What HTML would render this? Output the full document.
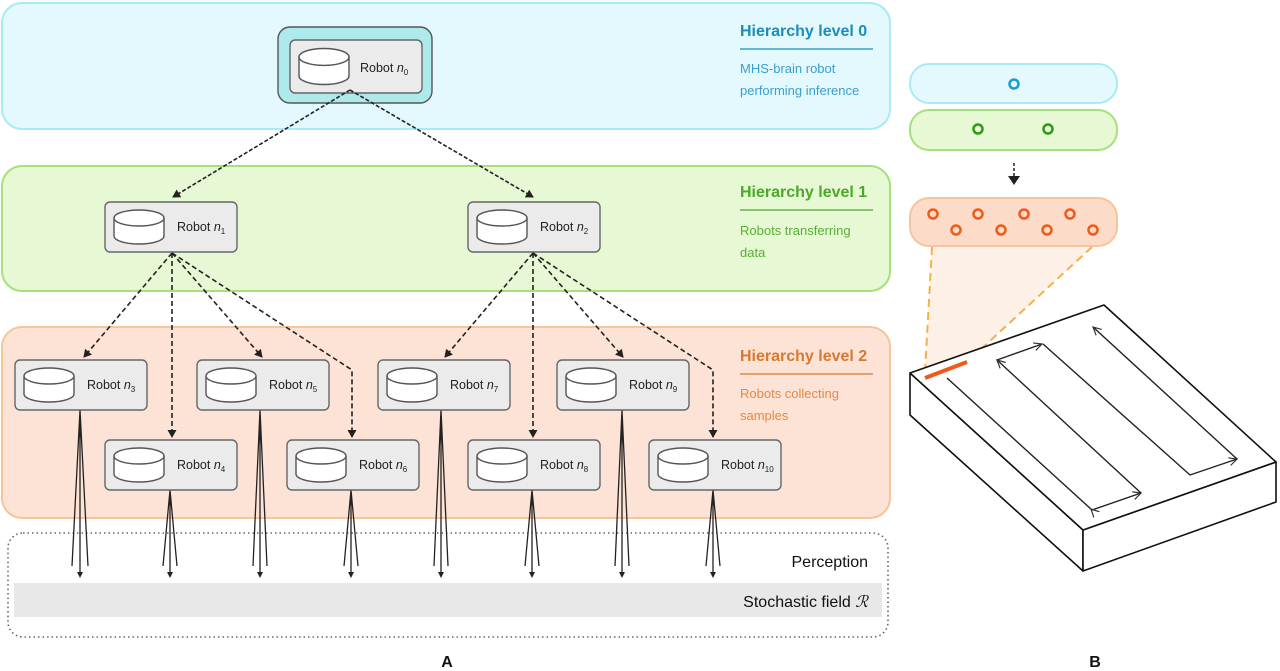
<!DOCTYPE html>
<html><head><meta charset="utf-8"><style>
html,body{margin:0;padding:0;background:#fff;}
svg{display:block;font-family:"Liberation Sans",sans-serif;}
</style></head><body>
<svg width="1280" height="671" viewBox="0 0 1280 671" xmlns="http://www.w3.org/2000/svg">
<defs>
<marker id="ah" markerWidth="9" markerHeight="9" refX="7" refY="4.5" orient="auto" markerUnits="userSpaceOnUse"><path d="M0,0 L8,4.5 L0,9 z" fill="#222"/></marker>
<marker id="oa" markerWidth="10" markerHeight="10" refX="8" refY="5" orient="auto" markerUnits="userSpaceOnUse"><path d="M0,1 L8,5 L0,9" fill="none" stroke="#333" stroke-width="1.2"/></marker>
<g id="robot">
<rect x="0" y="0" width="132" height="50" rx="5" fill="#ebebeb" stroke="#666" stroke-width="1.4"/>
<path d="M9,16 v18 a25,8 0 0 0 50,0 v-18" fill="#fff" stroke="#555" stroke-width="1.4"/>
<ellipse cx="34" cy="16" rx="25" ry="8" fill="#fff" stroke="#555" stroke-width="1.4"/>
</g>
</defs>
<rect x="2" y="3" width="888" height="126" rx="20" fill="#e3f9fd" stroke="#a6ebf7" stroke-width="2"/>
<rect x="2" y="166" width="888" height="125" rx="20" fill="#e6f8d4" stroke="#a6e07a" stroke-width="2"/>
<rect x="2" y="327" width="888" height="191" rx="20" fill="#fde3d5" stroke="#f8c49a" stroke-width="2"/>
<g>
<text x="740" y="36" fill="#1b8cc0" font-size="16" font-weight="bold">Hierarchy level 0</text>
<line x1="740" y1="49" x2="873" y2="49" stroke="#1b8cc0" stroke-width="1.3"/>
<text x="740" y="73" fill="#3a9fd0" font-size="13">MHS-brain robot</text>
<text x="740" y="95" fill="#3a9fd0" font-size="13">performing inference</text>
<text x="740" y="197" fill="#4ca82a" font-size="16" font-weight="bold">Hierarchy level 1</text>
<line x1="740" y1="210" x2="873" y2="210" stroke="#4ca82a" stroke-width="1.3"/>
<text x="740" y="235" fill="#58b030" font-size="13">Robots transferring</text>
<text x="740" y="257" fill="#58b030" font-size="13">data</text>
<text x="740" y="361" fill="#d67a30" font-size="16" font-weight="bold">Hierarchy level 2</text>
<line x1="740" y1="374" x2="873" y2="374" stroke="#d67a30" stroke-width="1.3"/>
<text x="740" y="398" fill="#e08a48" font-size="13">Robots collecting</text>
<text x="740" y="420" fill="#e08a48" font-size="13">samples</text>
</g>
<rect x="8" y="533" width="880" height="104" rx="15" fill="none" stroke="#666" stroke-width="1.6" stroke-dasharray="1.5,3"/>
<rect x="14" y="583" width="868" height="34" fill="#e8e8e8"/>
<text x="868" y="567" text-anchor="end" font-size="16" fill="#111">Perception</text>
<text x="868" y="607" text-anchor="end" font-size="16" fill="#111">Stochastic field <tspan font-family="Liberation Serif" font-style="italic">ℛ</tspan></text>
<rect x="278" y="27" width="154" height="76" rx="12" fill="#aee9ec" stroke="#555" stroke-width="1.4"/>
<g transform="translate(290,40) scale(1,1.06)"><use href="#robot"/></g>
<text x="360" y="72" font-size="12.5" fill="#222">Robot <tspan font-style="italic">n</tspan><tspan font-size="8" dy="3">0</tspan></text>
<g stroke="#222" stroke-width="1.6" stroke-dasharray="4,2" fill="none">
<line x1="350" y1="90" x2="173" y2="197" marker-end="url(#ah)"/>
<line x1="350" y1="90" x2="533" y2="197" marker-end="url(#ah)"/>
</g>
<use href="#robot" x="105" y="202"/><text x="177" y="231" font-size="12.5" fill="#222">Robot <tspan font-style="italic">n</tspan><tspan font-size="8" dy="3">1</tspan></text>
<use href="#robot" x="468" y="202"/><text x="540" y="231" font-size="12.5" fill="#222">Robot <tspan font-style="italic">n</tspan><tspan font-size="8" dy="3">2</tspan></text>
<g stroke="#222" stroke-width="1.6" stroke-dasharray="5,3" fill="none">
<line x1="172" y1="253" x2="84" y2="357" marker-end="url(#ah)"/>
<line x1="172" y1="253" x2="172" y2="437" marker-end="url(#ah)"/>
<line x1="172" y1="253" x2="262" y2="357" marker-end="url(#ah)"/>
<polyline points="172,253 352,370 352,437" marker-end="url(#ah)"/>
<line x1="533" y1="253" x2="445" y2="357" marker-end="url(#ah)"/>
<line x1="533" y1="253" x2="533" y2="437" marker-end="url(#ah)"/>
<line x1="533" y1="253" x2="623" y2="357" marker-end="url(#ah)"/>
<polyline points="533,253 713,370 713,437" marker-end="url(#ah)"/>
</g>
<g stroke="#222" stroke-width="1.3" fill="none">
<path d="M80,410 L72,566 M80,410 L88,566 M80,410 L80,574"/>
<path d="M170,490 L163,566 M170,490 L177,566 M170,490 L170,574"/>
<path d="M260,410 L253,566 M260,410 L267,566 M260,410 L260,574"/>
<path d="M351,490 L344,566 M351,490 L358,566 M351,490 L351,574"/>
<path d="M441,410 L434,566 M441,410 L448,566 M441,410 L441,574"/>
<path d="M532,490 L525,566 M532,490 L539,566 M532,490 L532,574"/>
<path d="M622,410 L615,566 M622,410 L629,566 M622,410 L622,574"/>
<path d="M713,490 L706,566 M713,490 L720,566 M713,490 L713,574"/>
</g>
<g fill="#222">
<path d="M77,572 h6 l-3,6 z"/><path d="M167,572 h6 l-3,6 z"/><path d="M257,572 h6 l-3,6 z"/><path d="M348,572 h6 l-3,6 z"/>
<path d="M438,572 h6 l-3,6 z"/><path d="M529,572 h6 l-3,6 z"/><path d="M619,572 h6 l-3,6 z"/><path d="M710,572 h6 l-3,6 z"/>
</g>
<g font-size="12.5" fill="#222">
<use href="#robot" x="15" y="360"/><text x="87" y="389">Robot <tspan font-style="italic">n</tspan><tspan font-size="8" dy="3">3</tspan></text>
<use href="#robot" x="197" y="360"/><text x="269" y="389">Robot <tspan font-style="italic">n</tspan><tspan font-size="8" dy="3">5</tspan></text>
<use href="#robot" x="378" y="360"/><text x="450" y="389">Robot <tspan font-style="italic">n</tspan><tspan font-size="8" dy="3">7</tspan></text>
<use href="#robot" x="557" y="360"/><text x="629" y="389">Robot <tspan font-style="italic">n</tspan><tspan font-size="8" dy="3">9</tspan></text>
<use href="#robot" x="105" y="440"/><text x="177" y="469">Robot <tspan font-style="italic">n</tspan><tspan font-size="8" dy="3">4</tspan></text>
<use href="#robot" x="287" y="440"/><text x="359" y="469">Robot <tspan font-style="italic">n</tspan><tspan font-size="8" dy="3">6</tspan></text>
<use href="#robot" x="468" y="440"/><text x="540" y="469">Robot <tspan font-style="italic">n</tspan><tspan font-size="8" dy="3">8</tspan></text>
<use href="#robot" x="649" y="440"/><text x="721" y="469">Robot <tspan font-style="italic">n</tspan><tspan font-size="8" dy="3">10</tspan></text>
</g>
<text x="447" y="667" font-size="16" font-weight="bold" text-anchor="middle" fill="#111">A</text>
<text x="1095" y="667" font-size="16" font-weight="bold" text-anchor="middle" fill="#111">B</text>
<rect x="910" y="64" width="207" height="39" rx="19" fill="#e3f9fd" stroke="#a6ebf7" stroke-width="2"/>
<circle cx="1014" cy="84" r="4.5" fill="none" stroke="#1b9ccc" stroke-width="2.5"/>
<rect x="910" y="110" width="207" height="40" rx="19" fill="#e6f8d4" stroke="#a6e07a" stroke-width="2"/>
<circle cx="978" cy="129" r="4.5" fill="none" stroke="#2f9a1a" stroke-width="2.5"/>
<circle cx="1048" cy="129" r="4.5" fill="none" stroke="#2f9a1a" stroke-width="2.5"/>
<line x1="1014" y1="163" x2="1014" y2="176" stroke="#222" stroke-width="1.5" stroke-dasharray="3,2"/>
<path d="M1008,176 h12 l-6,9 z" fill="#222"/>
<path d="M932,247 L1092,247 L967,362 L925,378 z" fill="#fdf0e6"/>
<rect x="910" y="198" width="207" height="48" rx="19" fill="#fcdcc8" stroke="#f8c49a" stroke-width="2"/>
<g fill="none" stroke="#f05a1a" stroke-width="2.5">
<circle cx="933" cy="214" r="4.5"/><circle cx="956" cy="230" r="4.5"/><circle cx="978" cy="214" r="4.5"/><circle cx="1001" cy="230" r="4.5"/>
<circle cx="1024" cy="214" r="4.5"/><circle cx="1047" cy="230" r="4.5"/><circle cx="1070" cy="214" r="4.5"/><circle cx="1093" cy="230" r="4.5"/>
</g>
<g stroke="#f5b04a" stroke-width="2" stroke-dasharray="8,5" fill="none">
<line x1="932" y1="247" x2="925" y2="372"/>
<line x1="1092" y1="247" x2="967" y2="362"/>
</g>
<g stroke="#111" stroke-width="1.6" fill="#fff" stroke-linejoin="round">
<path d="M910,373 L1083,530 L1083,571 L910,415 z"/>
<path d="M1083,530 L1276,462 L1276,502 L1083,571 z"/>
<path d="M910,373 L1104,305 L1276,462 L1083,530 z"/>
</g>
<line x1="925" y1="378" x2="967" y2="362" stroke="#f05a1a" stroke-width="4"/>
<g stroke="#222" stroke-width="1.4" fill="none">
<polyline points="947,378 1092,510 1141,493" marker-end="url(#oa)"/>
<line x1="1092" y1="510" x2="1091" y2="509" marker-end="url(#oa)"/>
<line x1="1141" y1="493" x2="997" y2="360" marker-end="url(#oa)"/>
<line x1="997" y1="360" x2="1042" y2="344" marker-end="url(#oa)"/>
<polyline points="1043,344 1190,475 1237,459" marker-end="url(#oa)"/>
<line x1="1237" y1="459" x2="1093" y2="327" marker-end="url(#oa)"/>
</g>
</svg>
</body></html>
